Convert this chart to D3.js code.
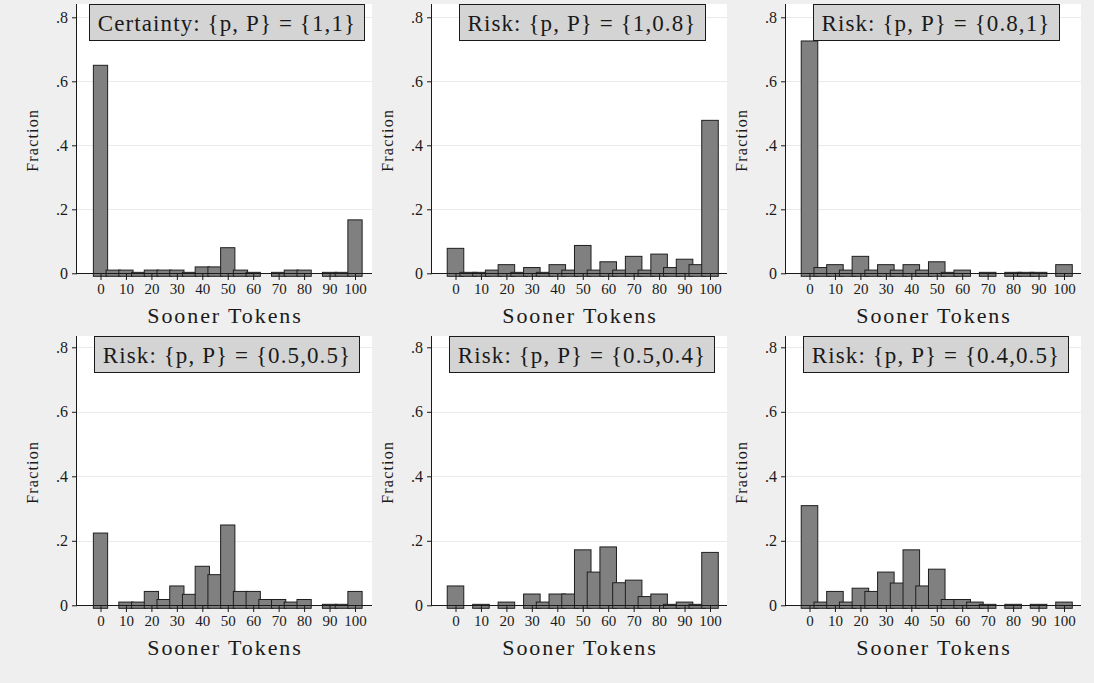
<!DOCTYPE html>
<html>
<head>
<meta charset="utf-8">
<script src="https://cdn.jsdelivr.net/npm/d3@7"></script>
<style>
  body { margin: 0; background: #efefef; }
  svg { display: block; }
  text { font-family: "Liberation Serif", "DejaVu Serif", serif; fill: #1a1a1a; }
</style>
</head>
<body>
<svg id="chart"></svg>
<script>
// bin centres (sooner tokens) shared by every panel
const binCenters = [0, 5, 10, 15, 20, 25, 30, 35, 40, 45, 50, 55, 60, 65, 70, 75, 80, 85, 90, 95, 100];
const xTickValues = [0, 10, 20, 30, 40, 50, 60, 70, 80, 90, 100];
const yTickValues = [0, 0.2, 0.4, 0.6, 0.8];

const panelTitles = [
  "Certainty: {p, P} = {1,1}",
  "Risk: {p, P} = {1,0.8}",
  "Risk: {p, P} = {0.8,1}",
  "Risk: {p, P} = {0.5,0.5}",
  "Risk: {p, P} = {0.5,0.4}",
  "Risk: {p, P} = {0.4,0.5}"
];

// fraction per bin, null = no observations in that bin
const certain_1_1 = [0.65, 0.01, 0.01, 0.003, 0.01, 0.01, 0.01, 0.003, 0.02, 0.02, 0.08, 0.01, 0.003, null, 0.003, 0.01, 0.01, null, 0.003, 0.003, 0.167];
const risk_1_08   = [0.078, 0.003, 0.003, 0.01, 0.027, 0.003, 0.018, 0.003, 0.027, 0.01, 0.087, 0.01, 0.036, 0.01, 0.053, 0.01, 0.06, 0.018, 0.044, 0.027, 0.478];
const risk_08_1   = [0.726, 0.018, 0.027, 0.01, 0.053, 0.01, 0.027, 0.01, 0.027, 0.01, 0.036, 0.003, 0.01, null, 0.003, null, 0.003, 0.003, 0.003, null, 0.027];
const risk_05_05  = [0.224, null, 0.01, 0.01, 0.043, 0.018, 0.06, 0.034, 0.121, 0.095, 0.249, 0.043, 0.043, 0.018, 0.018, 0.01, 0.018, null, 0.003, 0.003, 0.043];
const risk_05_04  = [0.06, null, 0.003, null, 0.01, null, 0.035, 0.01, 0.035, 0.035, 0.172, 0.103, 0.181, 0.07, 0.078, 0.027, 0.035, 0.003, 0.01, 0.003, 0.164];
const risk_04_05  = [0.309, 0.01, 0.043, 0.01, 0.053, 0.043, 0.103, 0.069, 0.172, 0.06, 0.112, 0.018, 0.018, 0.01, 0.003, null, 0.003, null, 0.003, null, 0.01];

const panelValues = [certain_1_1, risk_1_08, risk_08_1, risk_05_05, risk_05_04, risk_04_05];

const width = 1094, height = 683;
const svg = d3.select("#chart").attr("width", width).attr("height", height);

svg.append("rect").attr("width", width).attr("height", height).attr("fill", "#efefef");

// layout of the 3 x 2 grid
const colLeft = [76, 431, 785];
const plotW = 296;
const rows = [
  { top: 4, base: 273.3, span: 256 },
  { top: 336, base: 605.3, span: 258 }
];
const barWidthUnits = [5.6, 6.5, 6.5, 5.6, 6.5, 6.5];

panelValues.forEach((vals, i) => {
  const row = rows[Math.floor(i / 3)];
  const left = colLeft[i % 3];
  const g = svg.append("g").attr("transform", `translate(${left},0)`);

  const x = d3.scaleLinear().domain([0, 100]).range([24.5, 279]);
  const y = d3.scaleLinear().domain([0, 0.8]).range([row.base, row.base - row.span]);

  // white plot region
  g.append("rect")
    .attr("x", 0).attr("y", row.top)
    .attr("width", plotW).attr("height", row.base - row.top)
    .attr("fill", "#ffffff");

  // grid lines
  g.selectAll(".grid")
    .data(yTickValues.filter(d => d > 0))
    .enter().append("line")
    .attr("x1", 0).attr("x2", plotW)
    .attr("y1", d => Math.round(y(d)) + 0.5).attr("y2", d => Math.round(y(d)) + 0.5)
    .attr("stroke", "#eaeaea").attr("stroke-width", 1);

  // bars
  const bw = x(barWidthUnits[i]) - x(0);
  const bars = binCenters.map((c, k) => ({ c: c, v: vals[k] })).filter(d => d.v !== null);
  g.selectAll(".bar")
    .data(bars)
    .enter().append("rect")
    .attr("class", "bar")
    .attr("x", d => x(d.c) - bw / 2)
    .attr("y", d => y(d.v))
    .attr("width", bw)
    .attr("height", d => y(0) + 3 - y(d.v))
    .attr("fill", "#808080")
    .attr("stroke", "#1f1f1f")
    .attr("stroke-width", 1);

  // x axis line + ticks
  g.append("line")
    .attr("x1", 0).attr("x2", plotW)
    .attr("y1", Math.round(y(0)) + 0.5).attr("y2", Math.round(y(0)) + 0.5)
    .attr("stroke", "#1a1a1a");

  const xAxis = g.append("g")
    .attr("transform", `translate(0,${Math.round(y(0))})`)
    .call(d3.axisBottom(x).tickValues(xTickValues).tickSize(7).tickSizeOuter(0).tickFormat(d3.format("d")));
  xAxis.select(".domain").remove();
  xAxis.selectAll(".tick line").attr("stroke", "#1a1a1a");
  xAxis.selectAll(".tick text")
    .attr("y", 21).attr("dy", null)
    .style("font-size", "15px")
    .style("font-family", "'Liberation Serif', serif");

  // y axis
  g.append("line")
    .attr("x1", 0.5).attr("x2", 0.5)
    .attr("y1", row.top).attr("y2", row.base + 1)
    .attr("stroke", "#1a1a1a");

  const yAxis = g.append("g")
    .call(d3.axisLeft(y).tickValues(yTickValues).tickSize(4).tickSizeOuter(0)
      .tickFormat(d => d === 0 ? "0" : d3.format(".1f")(d).replace(/^0/, "")));
  yAxis.select(".domain").remove();
  yAxis.selectAll(".tick line").attr("stroke", "#1a1a1a");
  yAxis.selectAll(".tick text")
    .attr("x", -8)
    .style("font-size", "16px")
    .style("font-family", "'Liberation Serif', serif");

  // axis titles
  g.append("text")
    .attr("transform", `translate(-38,${row.base - 133}) rotate(-90)`)
    .attr("text-anchor", "middle")
    .style("font-size", "16px")
    .style("letter-spacing", "1.2px")
    .text("Fraction");

  g.append("text")
    .attr("x", plotW / 2 + 1)
    .attr("y", row.base + 50)
    .attr("text-anchor", "middle")
    .style("font-size", "22px")
    .style("letter-spacing", "1.9px")
    .text("Sooner Tokens");

  // title box
  const tg = g.append("g");
  const t = tg.append("text")
    .attr("x", plotW / 2 + 3)
    .attr("y", row.top + 27)
    .attr("text-anchor", "middle")
    .style("font-size", "23px")
    .style("letter-spacing", "1.1px")
    .text(panelTitles[i]);
  const bb = t.node().getBBox();
  tg.insert("rect", "text")
    .attr("x", Math.round(bb.x - 9) + 0.5)
    .attr("y", row.top + 0.5)
    .attr("width", Math.round(bb.width + 17))
    .attr("height", 36)
    .attr("fill", "#d4d4d4")
    .attr("stroke", "#1a1a1a");
});
</script>
</body>
</html>
